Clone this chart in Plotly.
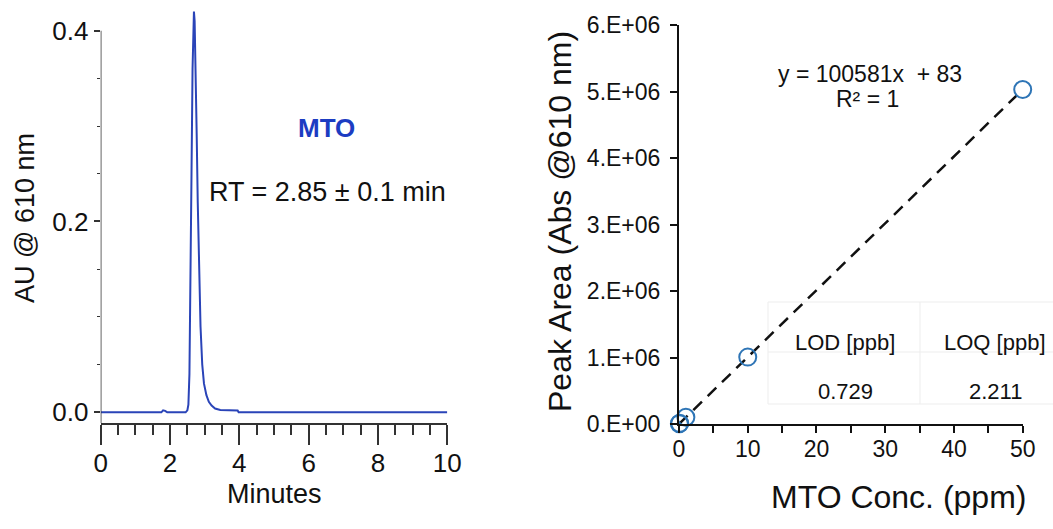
import plotly.graph_objects as go

# ---------------- data ----------------
# Chromatogram (left)
time_min = [0.0, 1.75, 1.80, 1.86, 1.92, 2.45, 2.50, 2.53, 2.56, 2.59, 2.62, 2.65, 2.67,
            2.69, 2.71, 2.74, 2.77, 2.80, 2.84, 2.88, 2.93, 2.98, 3.05, 3.12, 3.20, 3.30,
            3.45, 3.70, 3.95, 3.98, 10.0]
absorbance_au = [0.0, 0.0, 0.002, 0.0015, 0.0, 0.0, 0.002, 0.008, 0.04, 0.12, 0.25, 0.36, 0.405,
                 0.42, 0.41, 0.36, 0.29, 0.22, 0.15, 0.09, 0.05, 0.03, 0.018, 0.011, 0.007, 0.004,
                 0.0025, 0.002, 0.002, 0.0, 0.0]

# Calibration (right)
conc_ppm = [0.05, 0.1, 1, 10, 50]
peak_area = [5112, 10141, 100664, 1005893, 5029133]
fit_slope = 100581
fit_intercept = 83
fit_x = [0, 50]

left_ytick_vals = [0.0, 0.2, 0.4]
left_ytick_text = ["0.0", "0.2", "0.4"]
right_ytick_vals = [0, 1e6, 2e6, 3e6, 4e6, 5e6, 6e6]
right_ytick_text = ["0.E+00", "1.E+06", "2.E+06", "3.E+06", "4.E+06", "5.E+06", "6.E+06"]

table_header = ["LOD [ppb]", "LOQ [ppb]"]
table_values = ["0.729", "2.211"]

# ---------------- figure ----------------
W, H = 1053, 529
FONT = "Arial, Liberation Sans, sans-serif"
TXT = "#111111"
AX = "#333333"

Y_LO, Y_AXTOP, Y_HI = -0.0112, 0.4, 0.43


def px(x):
    return x / W


def py(y):
    return 1 - y / H


fig = go.Figure()

fig.add_trace(go.Scatter(
    x=time_min, y=absorbance_au, mode="lines",
    line=dict(color="#2a44b8", width=2, shape="linear"),
    xaxis="x", yaxis="y", showlegend=False, hoverinfo="skip"))

fit_y = [fit_slope * v + fit_intercept for v in fit_x]
fig.add_trace(go.Scatter(
    x=fit_x, y=fit_y, mode="lines",
    line=dict(color="#111111", width=2.5, dash="12px,8px"),
    xaxis="x2", yaxis="y2", showlegend=False, hoverinfo="skip"))

fig.add_trace(go.Scatter(
    x=conc_ppm, y=peak_area, mode="markers",
    marker=dict(symbol="circle-open", size=17, color="#2e75b6", line=dict(width=2, color="#2e75b6")),
    xaxis="x2", yaxis="y2", showlegend=False, cliponaxis=False, hoverinfo="skip"))

fig.update_layout(
    width=W, height=H,
    margin=dict(l=0, r=0, t=0, b=0, autoexpand=False),
    paper_bgcolor="white", plot_bgcolor="white",
    font=dict(family=FONT, color=TXT),
    xaxis=dict(
        domain=[px(100.7), px(447.3)], range=[0, 10], anchor="y", automargin=False,
        showline=True, linecolor=AX, linewidth=1.5, showgrid=False, zeroline=False,
        ticks="outside", ticklen=20, tickwidth=1.5, tickcolor=AX, dtick=2, tick0=0,
        minor=dict(ticks="outside", ticklen=10, tickwidth=1.5, tickcolor=AX, dtick=0.5, tick0=0),
        tickfont=dict(size=26, family=FONT, color=TXT), ticklabelstandoff=-4,
    ),
    yaxis=dict(
        domain=[py(423), py(2)], range=[Y_LO, Y_HI], anchor="x", automargin=False,
        showline=False, showgrid=False, zeroline=False,
        ticks="outside", ticklen=6, tickwidth=1.5, tickcolor=AX,
        tickvals=left_ytick_vals, ticktext=left_ytick_text,
        minor=dict(ticks="outside", ticklen=3, tickwidth=1.2, tickcolor=AX, dtick=0.05, tick0=0),
        tickfont=dict(size=26, family=FONT, color=TXT),
    ),
    xaxis2=dict(
        domain=[px(679), px(1022.7)], range=[0, 50], anchor="y2", automargin=False,
        showline=True, linecolor="#111111", linewidth=2, showgrid=False, zeroline=False,
        ticks="outside", ticklen=7, tickwidth=2, tickcolor="#111111", dtick=10, tick0=0,
        minor=dict(ticks="outside", ticklen=7, tickwidth=2, tickcolor="#111111", dtick=5, tick0=0),
        tickfont=dict(size=23, family=FONT, color=TXT), ticklabelstandoff=-4,
    ),
    yaxis2=dict(
        domain=[py(424), py(25)], range=[0, 6e6], anchor="x2", automargin=False,
        showline=True, linecolor="#111111", linewidth=2, showgrid=False, zeroline=False,
        ticks="outside", ticklen=7, tickwidth=2, tickcolor="#111111",
        tickvals=right_ytick_vals, ticktext=right_ytick_text,
        tickfont=dict(size=23, family=FONT, color=TXT), ticklabelstandoff=5,
    ),
)

ann = []
# axis titles
ann.append(dict(text="Minutes", x=px(275), y=py(494), xref="paper", yref="paper",
                showarrow=False, xanchor="center", yanchor="middle", font=dict(size=27)))
ann.append(dict(text="AU @ 610 nm", x=px(25), y=py(218), xref="paper", yref="paper",
                showarrow=False, xanchor="center", yanchor="middle", textangle=-90, font=dict(size=27)))
ann.append(dict(text="MTO Conc. (ppm)", x=px(898), y=py(497), xref="paper", yref="paper",
                showarrow=False, xanchor="center", yanchor="middle", font=dict(size=32)))
ann.append(dict(text="Peak Area (Abs @610 nm)", x=px(560), y=py(222), xref="paper", yref="paper",
                showarrow=False, xanchor="center", yanchor="middle", textangle=-90, font=dict(size=32)))
# left chart labels
ann.append(dict(text="<b>MTO</b>", x=px(326), y=py(128), xref="paper", yref="paper",
                showarrow=False, xanchor="center", yanchor="middle", font=dict(size=26, color="#1c3cc2")))
ann.append(dict(text="RT = 2.85 ± 0.1 min", x=px(327), y=py(192), xref="paper", yref="paper",
                showarrow=False, xanchor="center", yanchor="middle", font=dict(size=27)))
# equation
ann.append(dict(text=f"y = {fit_slope}x  + {fit_intercept}", x=px(870), y=py(74), xref="paper", yref="paper",
                showarrow=False, xanchor="center", yanchor="middle", font=dict(size=23)))
ann.append(dict(text="R² = 1", x=px(868), y=py(99), xref="paper", yref="paper",
                showarrow=False, xanchor="center", yanchor="middle", font=dict(size=23)))
# table
col_x = [845, 995]
for cx, h, v in zip(col_x, table_header, table_values):
    ann.append(dict(text=h, x=px(cx), y=py(342), xref="paper", yref="paper",
                    showarrow=False, xanchor="center", yanchor="middle", font=dict(size=22)))
    ann.append(dict(text=v, x=px(cx), y=py(391), xref="paper", yref="paper",
                    showarrow=False, xanchor="center", yanchor="middle", font=dict(size=22)))
fig.update_layout(annotations=ann)

shapes = []
# left y-axis line, stopping at the top tick (0.4)
shapes.append(dict(type="line", xref="x", yref="y", x0=0, x1=0, y0=Y_LO, y1=Y_AXTOP,
                   line=dict(color=AX, width=1.5), layer="above"))
faint = dict(color="#ededed", width=1)
for yy in [302, 352, 404]:
    shapes.append(dict(type="line", xref="paper", yref="paper", x0=px(768), x1=px(1053),
                       y0=py(yy), y1=py(yy), line=faint, layer="below"))
for xx in [768, 920]:
    shapes.append(dict(type="line", xref="paper", yref="paper", x0=px(xx), x1=px(xx),
                       y0=py(302), y1=py(404), line=faint, layer="below"))
fig.update_layout(shapes=shapes)

fig.write_html("out.html", config={"displayModeBar": False},
               post_script="document.body.style.margin='0';document.body.style.padding='0';")
